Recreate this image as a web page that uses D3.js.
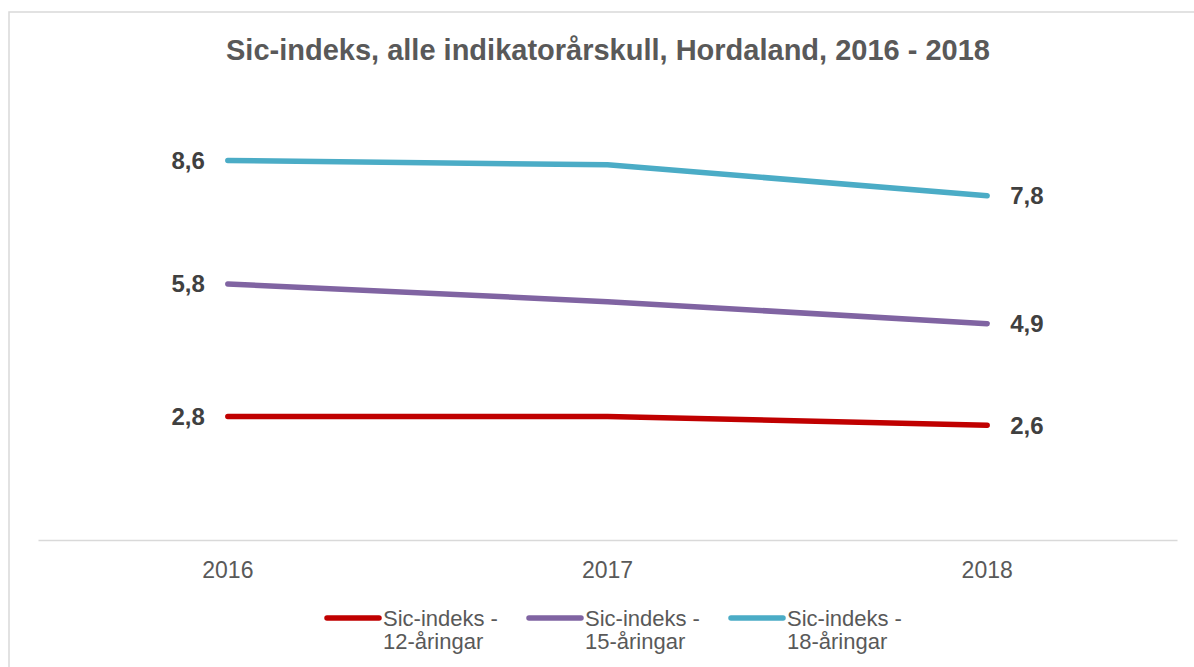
<!DOCTYPE html>
<html>
<head>
<meta charset="utf-8">
<script src="https://cdn.jsdelivr.net/npm/d3@7"></script>
<style>
  body { margin: 0; background: #fff; }
  svg text { font-family: "Liberation Sans", Arial, sans-serif; }
</style>
</head>
<body>
<div id="chart"></div>
<script>
var years = ["2016", "2017", "2018"],
	serie_names = ["Sic-indeks - 12-åringar", "Sic-indeks - 15-åringar", "Sic-indeks - 18-åringar"],
	legend_lines = [["Sic-indeks -", "12-åringar"], ["Sic-indeks -", "15-åringar"], ["Sic-indeks -", "18-åringar"]],
	values_12 = [2.8, 2.8, 2.6],
	values_15 = [5.8, 5.4, 4.9],
	values_18 = [8.6, 8.5, 7.8],
	colors = ["#C00000", "#8064A2", "#4BACC6"];

var svg_width = 1194,
	svg_height = 667,
	plot_left = 38,
	plot_right = 1177,
	plot_bottom = 540,
	plot_top = 98.6;

var series = [values_12, values_15, values_18].map(function (v, i) {
	return { name: serie_names[i], color: colors[i], legend: legend_lines[i],
		values: v.map(function (d, j) { return { year: years[j], value: d }; }) };
});

var svg = d3.select("#chart").append("svg")
	.attr("width", svg_width)
	.attr("height", svg_height);

// frame
svg.append("rect")
	.attr("x", 9).attr("y", 12)
	.attr("width", 1200).attr("height", 700)
	.attr("fill", "#fff")
	.attr("stroke", "#d9d9d9")
	.attr("stroke-width", 1.5);

svg.append("text")
	.attr("x", 608)
	.attr("y", 60)
	.attr("text-anchor", "middle")
	.style("font-size", "29px")
	.style("font-weight", "bold")
	.style("fill", "#595959")
	.text("Sic-indeks, alle indikatorårskull, Hordaland, 2016 - 2018");

var x = d3.scaleBand().domain(years).range([plot_left, plot_right]);
var y = d3.scaleLinear().domain([0, 10]).range([plot_bottom, plot_top]);

var xAxis = svg.append("g")
	.attr("transform", "translate(0," + plot_bottom + ")")
	.call(d3.axisBottom(x).tickSize(0).tickPadding(22));
xAxis.select(".domain").attr("stroke", "#d9d9d9").attr("stroke-width", 1.5);
xAxis.selectAll("text")
	.style("font-size", "23px")
	.style("fill", "#595959")
	.style("font-family", "'Liberation Sans', Arial, sans-serif");

var cx = function (d) { return x(d.year) + x.bandwidth() / 2; };
var line = d3.line()
	.x(cx)
	.y(function (d) { return y(d.value); });

var grp = svg.selectAll("g.serie")
	.data(series).enter().append("g")
	.attr("class", "serie");

grp.append("path")
	.attr("d", function (d) { return line(d.values); })
	.attr("fill", "none")
	.attr("stroke", function (d) { return d.color; })
	.attr("stroke-width", 5.5)
	.attr("stroke-linecap", "round")
	.attr("stroke-linejoin", "round");

// first and last value labels
grp.append("text")
	.attr("x", function (d) { return cx(d.values[0]) - 23; })
	.attr("y", function (d) { return y(d.values[0].value); })
	.attr("dy", "0.35em")
	.attr("text-anchor", "end")
	.style("font-size", "24px")
	.style("font-weight", "bold")
	.style("fill", "#404040")
	.text(function (d) { return d3.format(".1f")(d.values[0].value).replace(".", ","); });

grp.append("text")
	.attr("x", function (d) { return cx(d.values[2]) + 23; })
	.attr("y", function (d) { return y(d.values[2].value); })
	.attr("dy", "0.35em")
	.attr("text-anchor", "start")
	.style("font-size", "24px")
	.style("font-weight", "bold")
	.style("fill", "#404040")
	.text(function (d) { return d3.format(".1f")(d.values[2].value).replace(".", ","); });

// legend
var legend_x = [325, 527, 729];
var leg = svg.selectAll("g.legend")
	.data(series).enter().append("g")
	.attr("class", "legend")
	.attr("transform", function (d, i) { return "translate(" + legend_x[i] + " 618)"; });

leg.append("line")
	.attr("x1", 2).attr("x2", 54)
	.attr("y1", 0).attr("y2", 0)
	.attr("stroke", function (d) { return d.color; })
	.attr("stroke-width", 5.5)
	.attr("stroke-linecap", "round");

leg.append("text")
	.attr("x", 58)
	.attr("y", 0)
	.style("font-size", "22px")
	.style("fill", "#595959")
	.selectAll("tspan")
	.data(function (d) { return d.legend; })
	.enter().append("tspan")
	.attr("x", 58)
	.attr("dy", function (d, i) { return i == 0 ? "0.35em" : "1.05em"; })
	.text(function (d) { return d; });
</script>
</body>
</html>
